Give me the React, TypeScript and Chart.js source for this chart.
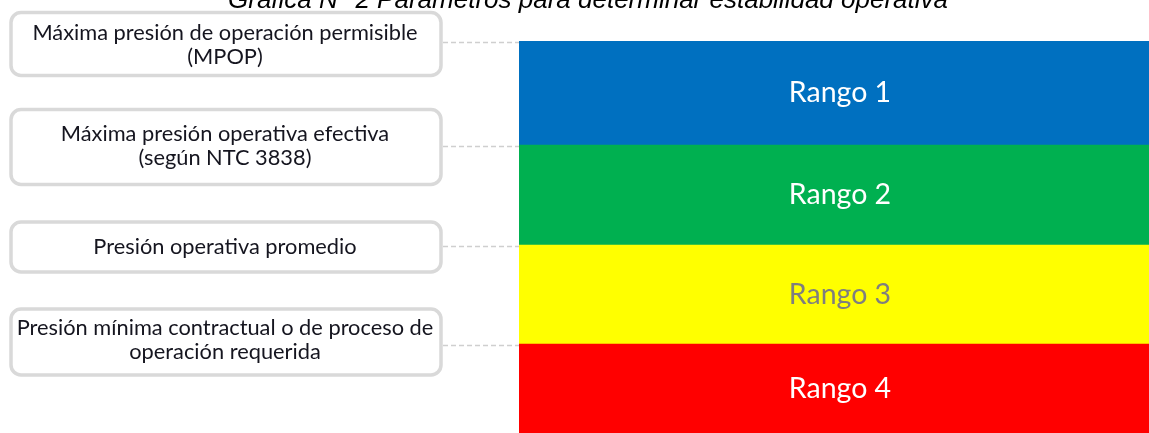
import React, { useEffect, useRef } from "react";
import { Chart, registerables } from "chart.js";

Chart.register(...registerables);

const titleText = "Gráfica N° 2 Parámetros para determinar estabilidad operativa";
const rangeLabels = ["Rango 1", "Rango 2", "Rango 3", "Rango 4"];
// Size of each operating range (relative pressure units), from top to bottom
const rangeSpans = [104, 100, 99, 89];
const rangeColors = ["#0070C0", "#00B050", "#FFFF00", "#FF0000"];
const rangeTextColors = ["#FFFFFF", "#FFFFFF", "#7F7F7F", "#FFFFFF"];
// Threshold labels: each one marks the top of the range with the same index
const thresholdLabels = [
  ["Máxima presión de operación permisible", "(MPOP)"],
  ["Máxima presión operativa efectiva", "(según NTC 3838)"],
  ["Presión operativa promedio"],
  ["Presión mínima contractual o de proceso de", "operación requerida"],
];

const BOX_HEIGHTS = [63, 75, 50, 66];
const BOX_SHIFT = [1, 0, 0, -4];
const BOX_TEXT_SHIFT = [1, -1, 0, -2];

export default function App() {
  const ref = useRef<HTMLCanvasElement | null>(null);

  useEffect(() => {
    const canvas = ref.current;
    if (!canvas) return;
    const total = rangeSpans.reduce((a, b) => a + b, 0);
    // bottom-up order for stacking
    const order = [3, 2, 1, 0];

    const overlay = {
      id: "overlay",
      afterDatasetsDraw(chart: any) {
        const ctx = chart.ctx;
        const yScale = chart.scales.y;
        const area = chart.chartArea;
        ctx.save();
        // title (clipped at top like the source image)
        ctx.font = "italic 26px 'Liberation Sans', Arial, sans-serif";
        ctx.fillStyle = "#000000";
        ctx.textAlign = "center";
        ctx.textBaseline = "alphabetic";
        ctx.fillText(titleText, 588, 8);

        // range labels
        order.forEach((ri, di) => {
          const meta = chart.getDatasetMeta(di);
          const el: any = meta.data[0];
          if (!el) return;
          const cx = (area.left + area.right) / 2 + 6;
          const cy = (el.y + el.base) / 2;
          ctx.font = "28.5px Lato, sans-serif";
          ctx.fillStyle = rangeTextColors[ri];
          ctx.textAlign = "center";
          ctx.textBaseline = "middle";
          ctx.fillText(rangeLabels[ri], cx, cy);
        });

        // threshold boxes
        let cum = total;
        thresholdLabels.forEach((lines, i) => {
          const level = cum;
          cum -= rangeSpans[i];
          const ly = Math.round(yScale.getPixelForValue(level)) + 1;
          const h = BOX_HEIGHTS[i];
          const x0 = 11;
          const x1 = 441;
          const top = ly - h / 2 + 1 + BOX_SHIFT[i];
          // dashed connector
          ctx.setLineDash([5, 3]);
          ctx.strokeStyle = "#CFCFCF";
          ctx.lineWidth = 1.5;
          ctx.beginPath();
          ctx.moveTo(x1 + 2, ly + 0.5);
          ctx.lineTo(area.left, ly + 0.5);
          ctx.stroke();
          ctx.setLineDash([]);
          // rounded box
          ctx.beginPath();
          (ctx as any).roundRect(x0, top, x1 - x0, h, 10);
          ctx.fillStyle = "#FFFFFF";
          ctx.fill();
          ctx.lineWidth = 3.5;
          ctx.strokeStyle = "#D9D9D9";
          ctx.stroke();
          // text
          ctx.font = "21.8px Lato, sans-serif";
          ctx.fillStyle = "#15151F";
          ctx.textAlign = "center";
          ctx.textBaseline = "middle";
          const lh = 24.5;
          const startY = top + h / 2 - ((lines.length - 1) * lh) / 2 + BOX_TEXT_SHIFT[i];
          lines.forEach((t, k) => {
            ctx.fillText(t, (x0 + x1) / 2 - 1, startY + k * lh);
          });
        });
        ctx.restore();
      },
    };

    const chart = new Chart(canvas, {
      type: "bar",
      data: {
        labels: ["Presión"],
        datasets: order.map((ri) => ({
          label: rangeLabels[ri],
          data: [rangeSpans[ri]],
          backgroundColor: rangeColors[ri],
          borderWidth: 0,
          barPercentage: 1,
          categoryPercentage: 1,
        })),
      },
      options: {
        animation: false,
        responsive: false,
        maintainAspectRatio: false,
        layout: { padding: { left: 519, top: 41, right: 0, bottom: 0 } },
        plugins: {
          legend: { display: false },
          tooltip: { enabled: false },
          title: { display: false },
        },
        scales: {
          x: { stacked: true, display: false },
          y: { stacked: true, display: false, min: 0, max: total },
        },
      },
      plugins: [overlay],
    });
    return () => chart.destroy();
  }, []);

  return (
    <div style={{ position: "absolute", left: 0, top: 0, width: 1149, height: 433, background: "#fff" }}>
      <canvas ref={ref} width={1149} height={433} style={{ display: "block", width: 1149, height: 433 }} />
    </div>
  );
}
